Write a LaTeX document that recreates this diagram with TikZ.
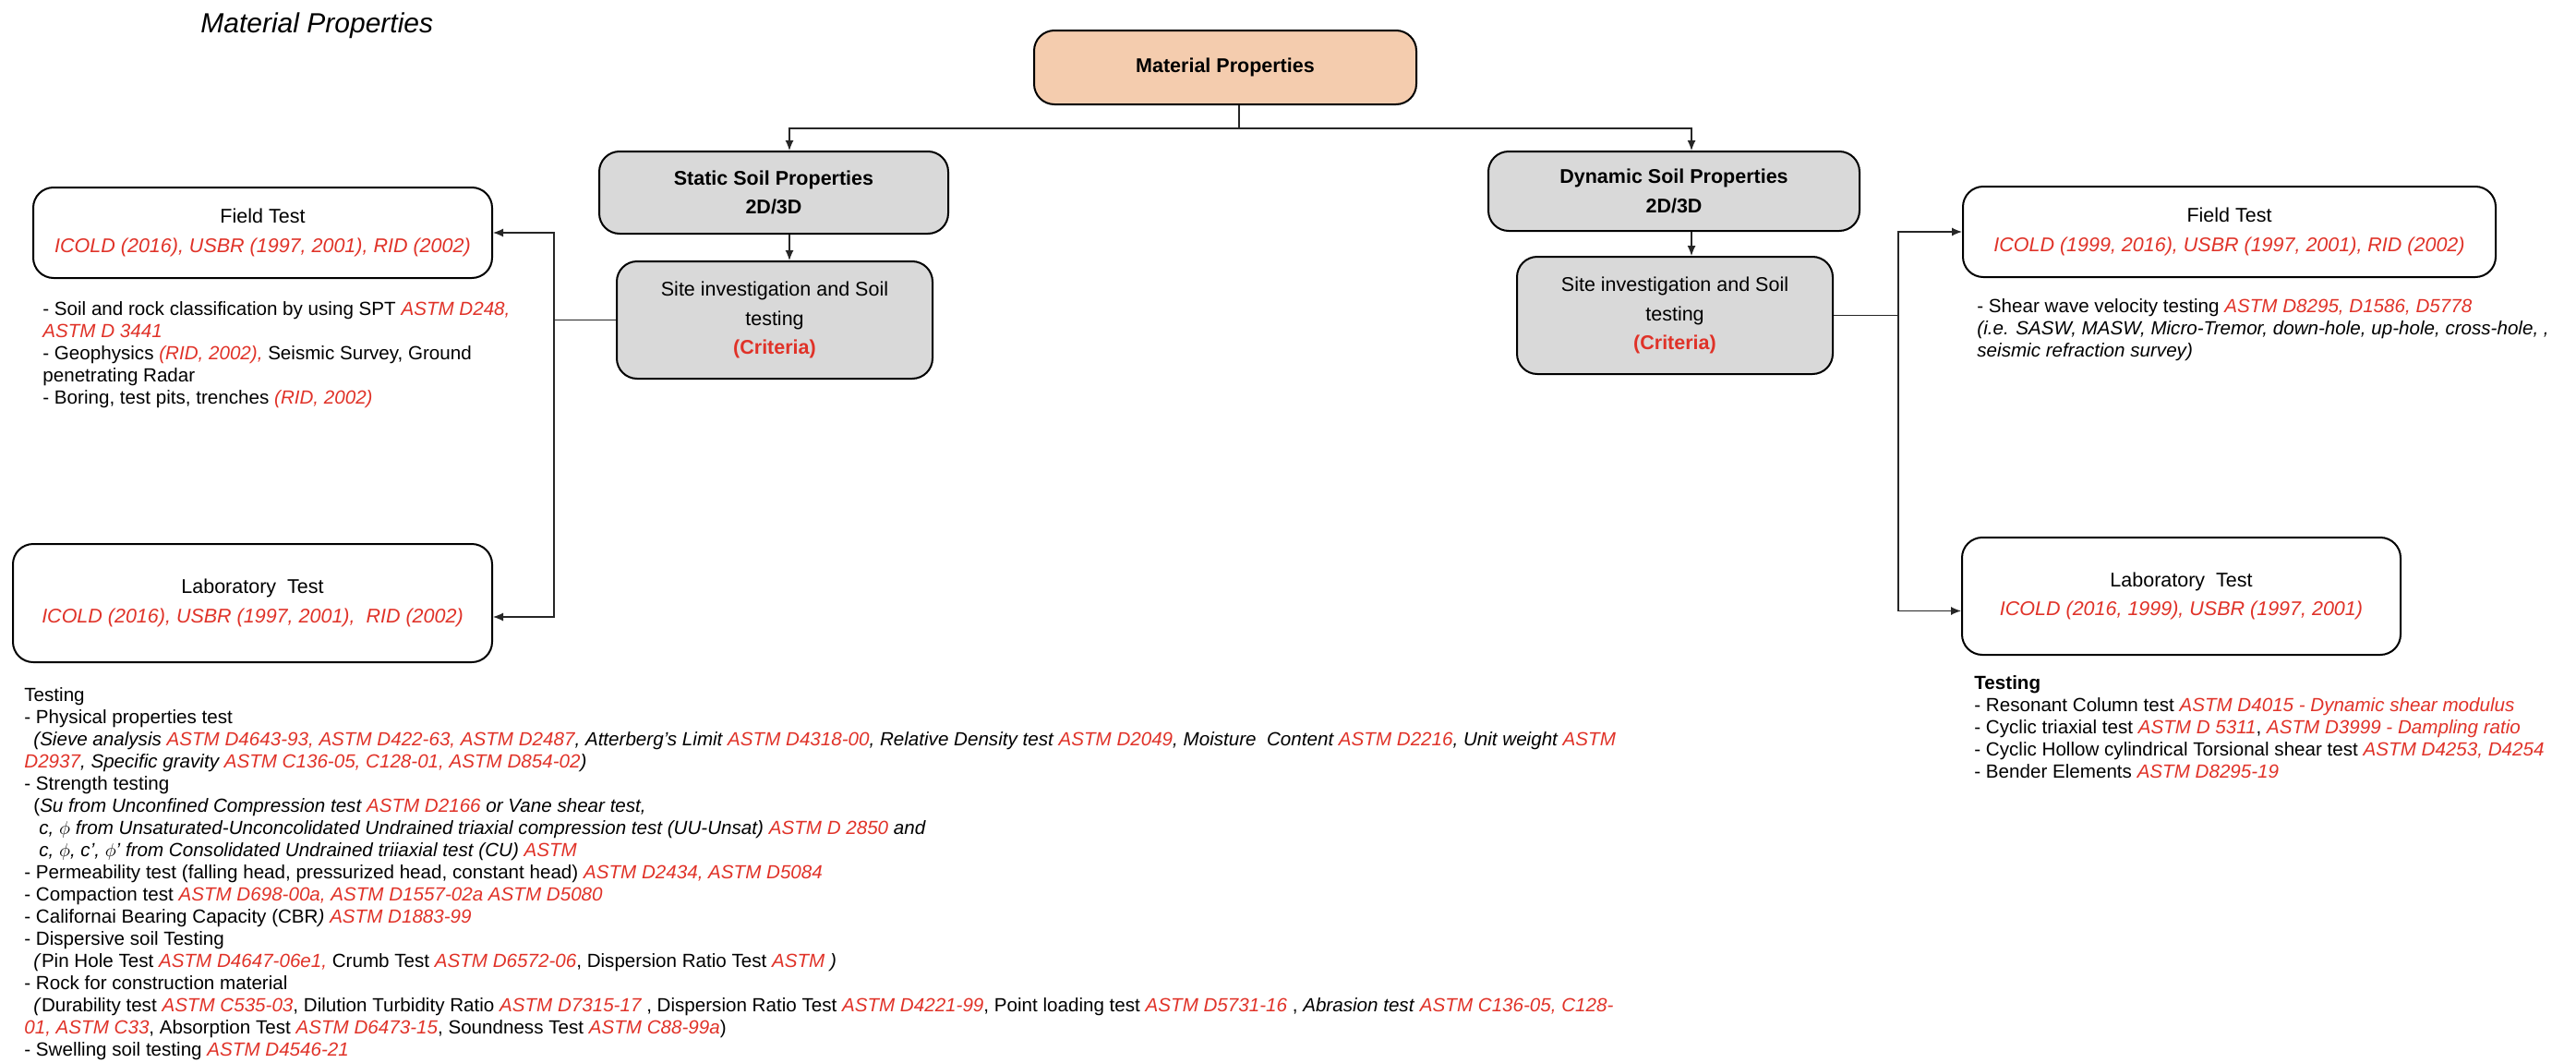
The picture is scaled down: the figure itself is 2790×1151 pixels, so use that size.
\documentclass[tikz,border=0pt]{standalone}
\usepackage{fontspec}
\setmainfont{Liberation Sans}
\usetikzlibrary{arrows.meta,calc}

\definecolor{refred}{RGB}{224,50,40}
\definecolor{peach}{RGB}{244,204,174}
\definecolor{boxgray}{RGB}{217,217,217}

% red italic standard references
\newcommand{\rd}[1]{\textcolor{refred}{\itshape #1}}

\begin{document}
\begin{tikzpicture}[x=0.5pt,y=-0.5pt,
  box/.style={draw=black, line width=1pt, rounded corners=11pt, align=center,
    inner sep=0pt, font=\fontsize{10.75}{15.75}\selectfont},
  boldbox/.style={box, font=\fontsize{10.75}{15.75}\selectfont\bfseries},
  link/.style={draw=black!85, line width=0.6pt},
  arr/.style={link, -{Latex[length=5.5pt,width=4.5pt]}},
  listtext/.style={anchor=north west, inner sep=0pt, align=left,
    font=\fontsize{10.3}{12}\selectfont}
]
\useasboundingbox (0,0) rectangle (2790,1151);

% heading
\node[anchor=base west, inner sep=0pt, font=\fontsize{15}{18}\selectfont\itshape]
  (title) at (217,35) {Material Properties};

% main boxes
\node[boldbox, fill=peach, minimum width=207pt, minimum height=40pt]
  (top) at (1327,73) {Material Properties};
\node[boldbox, fill=boxgray, minimum width=189pt, minimum height=44.5pt]
  (static) at (838,208.5) {Static Soil Properties\\2D/3D};
\node[boldbox, fill=boxgray, minimum width=201pt, minimum height=43pt]
  (dyn) at (1813,207) {Dynamic Soil Properties\\2D/3D};
\node[box, fill=boxgray, minimum width=171pt, minimum height=63.5pt]
  (ssite) at (839,346.5) {Site investigation and Soil\\testing\\\textcolor{refred}{\bfseries(Criteria)}};
\node[box, fill=boxgray, minimum width=171pt, minimum height=63.5pt]
  (dsite) at (1814,341.5) {Site investigation and Soil\\testing\\\textcolor{refred}{\bfseries(Criteria)}};

% test boxes
\node[box, fill=white, minimum width=248.5pt, minimum height=49pt]
  (fieldL) at (284.5,252) {Field Test\\\rd{ICOLD (2016), USBR (1997, 2001), RID (2002)}};
\node[box, fill=white, minimum width=259.5pt, minimum height=64pt]
  (labL) at (273.5,653) {Laboratory\ \ Test\\\rd{ICOLD (2016), USBR (1997, 2001),\ \ RID (2002)}};
\node[box, fill=white, minimum width=288.5pt, minimum height=49pt]
  (fieldR) at (2414.5,251) {Field Test\\\rd{ICOLD (1999, 2016), USBR (1997, 2001), RID (2002)}};
\node[box, fill=white, minimum width=237.5pt, minimum height=63.5pt]
  (labR) at (2362.5,645.5) {Laboratory\ \ Test\\\rd{ICOLD (2016, 1999), USBR (1997, 2001)}};

% connector columns
\coordinate (j) at (1342,139);
\coordinate (sa) at (855,0);
\coordinate (da) at (1832,0);
\coordinate (lx) at (600,0);
\coordinate (rx) at (2056,0);
\coordinate (labLin) at ($(labL.east)+(0,15)$);
\coordinate (labRin) at ($(labR.west)+(0,16)$);

\draw[link] (top.south -| j) -- (j);
\draw[arr] (j) -| (static.north -| sa);
\draw[arr] (j) -| (dyn.north -| da);
\draw[arr] (static.south -| sa) -- (ssite.north -| sa);
\draw[arr] (dyn.south -| da) -- (dsite.north -| da);

\draw[arr] (ssite.west) -| (lx |- fieldL.east) -- (fieldL.east);
\draw[arr] (ssite.west) -| (lx |- labLin) -- (labLin);
\draw[arr] (dsite.east) -| (rx |- fieldR.west) -- (fieldR.west);
\draw[arr] (dsite.east) -| (rx |- labRin) -- (labRin);

% notes under the field tests
\node[listtext] (fieldLnotes) at (46,324) {\strut- Soil and rock classification by using SPT \rd{ASTM D248,}\\
\rd{ASTM D 3441}\\
- Geophysics \rd{(RID, 2002),} Seismic Survey, Ground\\
penetrating Radar\\
- Boring, test pits, trenches \rd{(RID, 2002)}};

\node[listtext] (fieldRnotes) at (2141,321) {\strut- Shear wave velocity testing \rd{ASTM D8295, D1586, D5778}\\
\textit{(i.e. SASW, MASW, Micro-Tremor, down-hole, up-hole, cross-hole, ,}\\
\textit{seismic refraction survey)}};

% notes under the laboratory tests
\node[listtext] (labRnotes) at (2138,729) {\strut\textbf{Testing}\\
- Resonant Column test \rd{ASTM D4015 - Dynamic shear modulus}\\
- Cyclic triaxial test \rd{ASTM D 5311}, \rd{ASTM D3999 - Dampling ratio}\\
- Cyclic Hollow cylindrical Torsional shear test \rd{ASTM D4253, D4254}\\
- Bender Elements \rd{ASTM D8295-19}};

\node[listtext] (labLnotes) at (26,742) {\strut Testing\\
- Physical properties test\\
\hspace*{5pt}\textit{(Sieve analysis \rd{ASTM D4643-93, ASTM D422-63, ASTM D2487}, Atterberg's Limit \rd{ASTM D4318-00}, Relative Density test \rd{ASTM D2049}, Moisture\ \ Content \rd{ASTM D2216}, Unit weight \rd{ASTM}}\\
\textit{\rd{D2937}, Specific gravity \rd{ASTM C136-05, C128-01, ASTM D854-02})}\\
- Strength testing\\
\hspace*{5pt}(\textit{Su from Unconfined Compression test \rd{ASTM D2166} or Vane shear test,}\\
\hspace*{8pt}\textit{c, $\phi$ from Unsaturated-Unconcolidated Undrained triaxial compression test (UU-Unsat) \rd{ASTM D 2850} and}\\
\hspace*{8pt}\textit{c, $\phi$, c', $\phi$' from Consolidated Undrained triiaxial test (CU) \rd{ASTM}}\\
- Permeability test (falling head, pressurized head, constant head) \rd{ASTM D2434, ASTM D5084}\\
- Compaction test \rd{ASTM D698-00a, ASTM D1557-02a ASTM D5080}\\
- Californai Bearing Capacity (CBR\textit{)} \rd{ASTM D1883-99}\\
- Dispersive soil Testing\\
\hspace*{5pt}\textit{(}Pin Hole Test \rd{ASTM D4647-06e1,} Crumb Test \rd{ASTM D6572-06}, Dispersion Ratio Test \rd{ASTM}\textit{ )}\\
- Rock for construction material\\
\hspace*{5pt}\textit{(}Durability test \rd{ASTM C535-03}, Dilution Turbidity Ratio \rd{ASTM D7315-17} , Dispersion Ratio Test \rd{ASTM D4221-99}, Point loading test \rd{ASTM D5731-16} , \textit{Abrasion test} \rd{ASTM C136-05, C128-}\\
\rd{01, ASTM C33}, Absorption Test \rd{ASTM D6473-15}, Soundness Test \rd{ASTM C88-99a})\\
- Swelling soil testing \rd{ASTM D4546-21}};

\end{tikzpicture}
\end{document}
